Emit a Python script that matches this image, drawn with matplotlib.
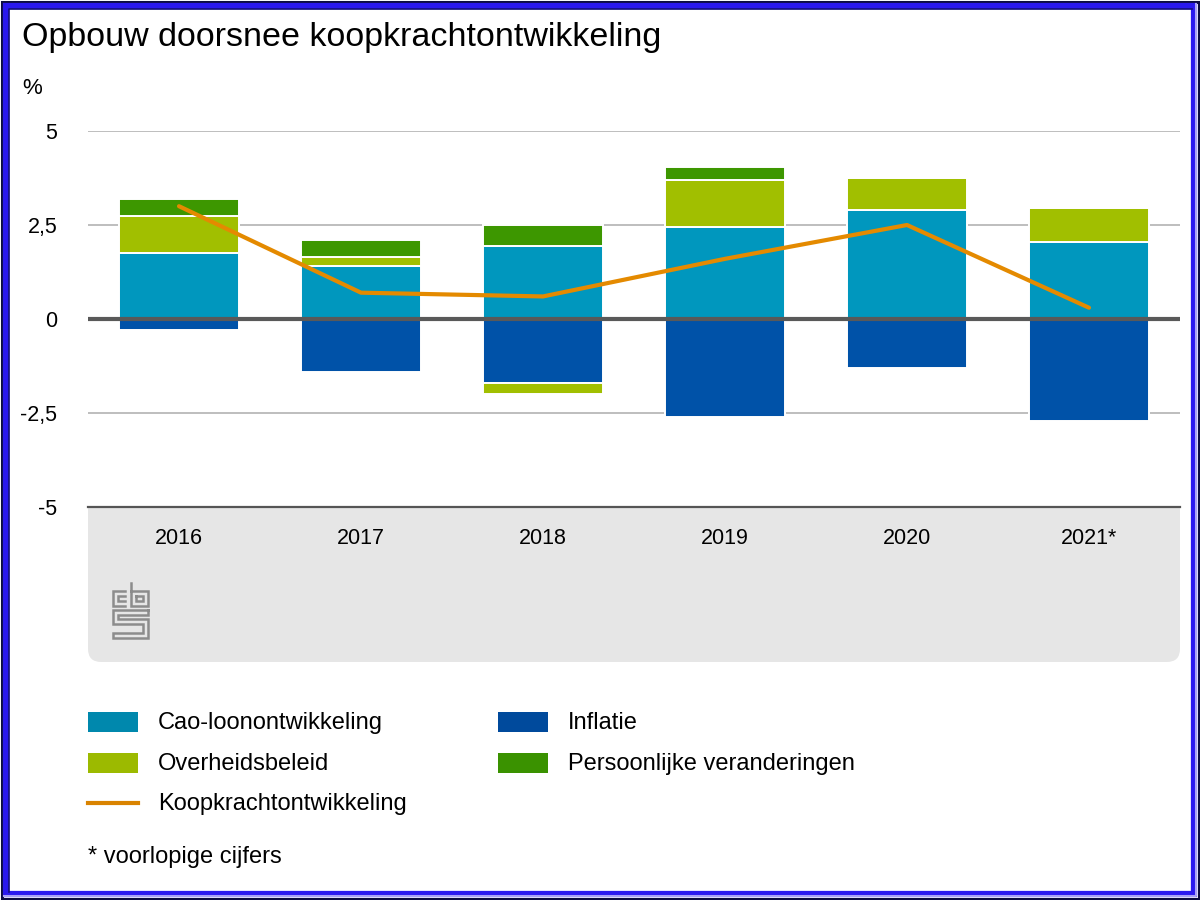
import matplotlib
matplotlib.use("Agg")
import matplotlib.pyplot as plt
import numpy as np
from matplotlib.patches import Rectangle, FancyBboxPatch
from matplotlib.lines import Line2D

plt.rcParams["font.family"] = ["Liberation Sans", "DejaVu Sans"]

# data (procenten)
jaren = ["2016", "2017", "2018", "2019", "2020", "2021*"]
cao = [1.75, 1.4, 1.95, 2.45, 2.9, 2.05]
inflatie = [-0.3, -1.4, -1.7, -2.6, -1.3, -2.7]
overheid = [1.0, 0.25, -0.3, 1.25, 0.85, 0.9]
persoonlijk = [0.45, 0.45, 0.55, 0.35, 0.0, 0.0]
koopkracht = [3.0, 0.7, 0.6, 1.6, 2.5, 0.3]

series = [
    ("Cao-loonontwikkeling", cao, "#0097be"),
    ("Inflatie", inflatie, "#0052a8"),
    ("Overheidsbeleid", overheid, "#a1bf00"),
    ("Persoonlijke veranderingen", persoonlijk, "#3d9700"),
]
lijn_kleur = "#e48a00"

W, H = 1200, 900


def fx(x):
    return x / W


def fy(y):
    return 1 - y / H


fig = plt.figure(figsize=(12, 9), dpi=100, facecolor="white")

# grijs vlak onder de x-as
box = FancyBboxPatch((fx(88), fy(662)), fx(1092), (662 - 470) / H,
                     boxstyle="round,pad=0,rounding_size=0.011",
                     mutation_aspect=W / H, transform=fig.transFigure,
                     facecolor="#e6e6e6", edgecolor="none", zorder=-5)
fig.patches.append(box)

ax = fig.add_axes([fx(88), fy(507), fx(1092), 376 / H])
ax.set_facecolor("white")
x = np.arange(len(jaren))

pos = np.zeros(len(jaren))
neg = np.zeros(len(jaren))
for naam, vals, kleur in series:
    v = np.array(vals, dtype=float)
    bottom = np.where(v >= 0, pos, neg)
    ax.bar(x, v, bottom=bottom, width=0.655, color=kleur,
           edgecolor="white", linewidth=1.4, zorder=2)
    pos = pos + np.where(v >= 0, v, 0)
    neg = neg + np.where(v < 0, v, 0)

ax.plot(x, koopkracht, color=lijn_kleur, lw=3, zorder=4,
        solid_capstyle="round", solid_joinstyle="round")

for yv in (5, 2.5, -2.5):
    ax.axhline(yv, color="#b9b9b9", lw=1.3, zorder=0)
ax.axhline(0, color="#595959", lw=3, zorder=3)

ax.set_xlim(-0.5, 5.5)
ax.set_ylim(-5, 5)
ax.set_yticks([-5, -2.5, 0, 2.5, 5])
ax.set_yticklabels(["-5", "-2,5", "0", "2,5", "5"])
ax.set_xticks(x)
ax.set_xticklabels(jaren)
ax.tick_params(axis="y", length=0, pad=22, labelsize=15.5)
ax.tick_params(axis="x", length=0, pad=15, labelsize=15.5)
for s in ("top", "left", "right"):
    ax.spines[s].set_visible(False)
ax.spines["bottom"].set_color("#555555")
ax.spines["bottom"].set_linewidth(1.6)

fig.text(fx(22), fy(46), "Opbouw doorsnee koopkrachtontwikkeling",
         fontsize=24.5, va="baseline", ha="left")
fig.text(fx(22), fy(88), "%", fontsize=16, va="center", ha="left")

# legenda
legenda = [
    ("Cao-loonontwikkeling", "#0088ad", 88, 722, "patch"),
    ("Overheidsbeleid", "#9cba00", 88, 763, "patch"),
    ("Koopkrachtontwikkeling", "#d98300", 88, 803, "line"),
    ("Inflatie", "#004a9c", 498, 722, "patch"),
    ("Persoonlijke veranderingen", "#3a9200", 498, 763, "patch"),
]
for label, kleur, lx, ly, soort in legenda:
    if soort == "patch":
        fig.patches.append(Rectangle((fx(lx), fy(ly + 10)), 50 / W, 20 / H,
                                     transform=fig.transFigure,
                                     facecolor=kleur, edgecolor="none"))
    else:
        fig.lines.append(Line2D([fx(lx), fx(lx + 50)], [fy(ly), fy(ly)],
                                transform=fig.transFigure, color=kleur, lw=3))
    fig.text(fx(lx + 70), fy(ly + 1), label, fontsize=17, va="center",
             ha="left")

fig.text(fx(88), fy(857), "* voorlopige cijfers", fontsize=17,
         va="center", ha="left")

# cbs-logo
logo = [
    [(125, 591), (113, 591), (113, 606), (125, 606)],
    [(125, 596), (118, 596), (118, 601), (125, 601)],
    [(131, 583), (131, 606), (148, 606), (148, 591), (131, 591)],
    [(136, 596), (143, 596), (143, 601), (136, 601), (136, 596)],
    [(148, 610), (113, 610), (113, 624), (143, 624), (143, 633),
     (113, 633), (113, 638), (148, 638), (148, 619), (118, 619),
     (118, 615), (148, 615), (148, 610)],
]
for pad in logo:
    px, py = zip(*pad)
    fig.lines.append(Line2D([fx(p) for p in px], [fy(p) for p in py],
                            transform=fig.transFigure, color="#8c8c8c",
                            lw=1.8, solid_joinstyle="miter"))

# rand
def kader(inset, kleur, lw):
    d = inset
    fig.patches.append(Rectangle((fx(d), fy(H - d)), (W - 2 * d) / W,
                                 (H - 2 * d) / H, transform=fig.transFigure,
                                 fill=False, edgecolor=kleur, lw=lw,
                                 zorder=10))

kader(1.5, "#0c0c40", 2.2)
kader(6, "#2a18ee", 4.5)
fig.lines.append(Line2D([fx(8.5), fx(8.5), fx(W - 8.5)],
                        [fy(H - 8.5), fy(8.5), fy(8.5)],
                        transform=fig.transFigure, color="#14107a", lw=1.2,
                        zorder=11))
fig.lines.append(Line2D([fx(4), fx(W - 4), fx(W - 4)],
                        [fy(H - 4), fy(H - 4), fy(4)],
                        transform=fig.transFigure, color="#a8a0f4", lw=1.5,
                        zorder=11))

fig.savefig("out.png", dpi=100, facecolor="white")
plt.close(fig)
